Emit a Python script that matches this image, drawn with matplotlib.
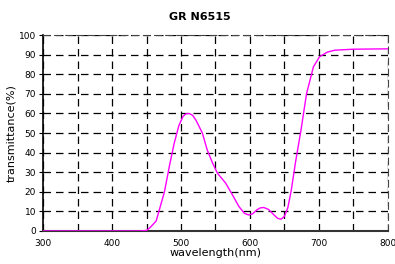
import matplotlib.pyplot as plt
import numpy as np

# transmittance curve
wavelength = [300, 400, 440, 450, 455, 464, 476, 483, 490, 497, 503, 507, 512, 517,
              522, 531, 538, 546, 553, 560, 565, 575, 584, 592, 598, 604, 610, 615,
              620, 627, 634, 640, 645, 650, 655, 660, 666, 674, 682, 692, 701, 712,
              723, 750, 800]
transmittance = [0, 0, 0, 0.3, 1.7, 5.1, 20, 32.8, 44.6, 53.9, 58.5, 59.8, 60, 59,
                 56.4, 50, 41.4, 34.5, 29.4, 26.5, 24.3, 18.2, 12.5, 9, 8.2, 8.8, 10.8, 11.8,
                 12, 11, 8.5, 6.5, 6, 7.5, 12, 21, 35, 51.5, 70, 83.8, 89, 91.3,
                 92.3, 92.8, 93]

title = "GR N6515"
x_ticks = [300, 400, 500, 600, 700, 800]
y_ticks = list(range(0, 101, 10))

fig = plt.figure(figsize=(3.95, 2.64), dpi=100)
ax = fig.add_axes([0.109, 0.125, 0.873, 0.742])

ax.plot(wavelength, transmittance, color='#ff00ff', linewidth=1.0, zorder=3)

ax.set_xlim(300, 800)
ax.set_ylim(0, 100)
ax.set_xticks(x_ticks)
ax.set_xticks(np.arange(350, 800, 100), minor=True)
ax.set_yticks(y_ticks)

# Add a grid
ax.grid(which='both', color='black', linestyle=(0, (6, 4)), linewidth=0.9)

ax.tick_params(axis='both', labelsize=6.5, length=3, width=0.8, pad=2)
ax.tick_params(axis='x', which='both', direction='in', length=0, pad=6)

for side in ['top', 'right']:
    ax.spines[side].set_linestyle((0, (6, 4)))
    ax.spines[side].set_color('#444444')
ax.spines['left'].set_linewidth(1.2)
ax.spines['bottom'].set_linewidth(1.5)
ax.spines['bottom'].set_color('#333333')

ax.set_xlabel('wavelength(nm)', fontsize=8, labelpad=0)
ax.set_ylabel('transmittance(%)', fontsize=8, labelpad=2)
fig.text(0.505, 0.935, title, ha='center', va='center', fontsize=8, fontweight='bold')

fig.savefig('out.png', dpi=100)
